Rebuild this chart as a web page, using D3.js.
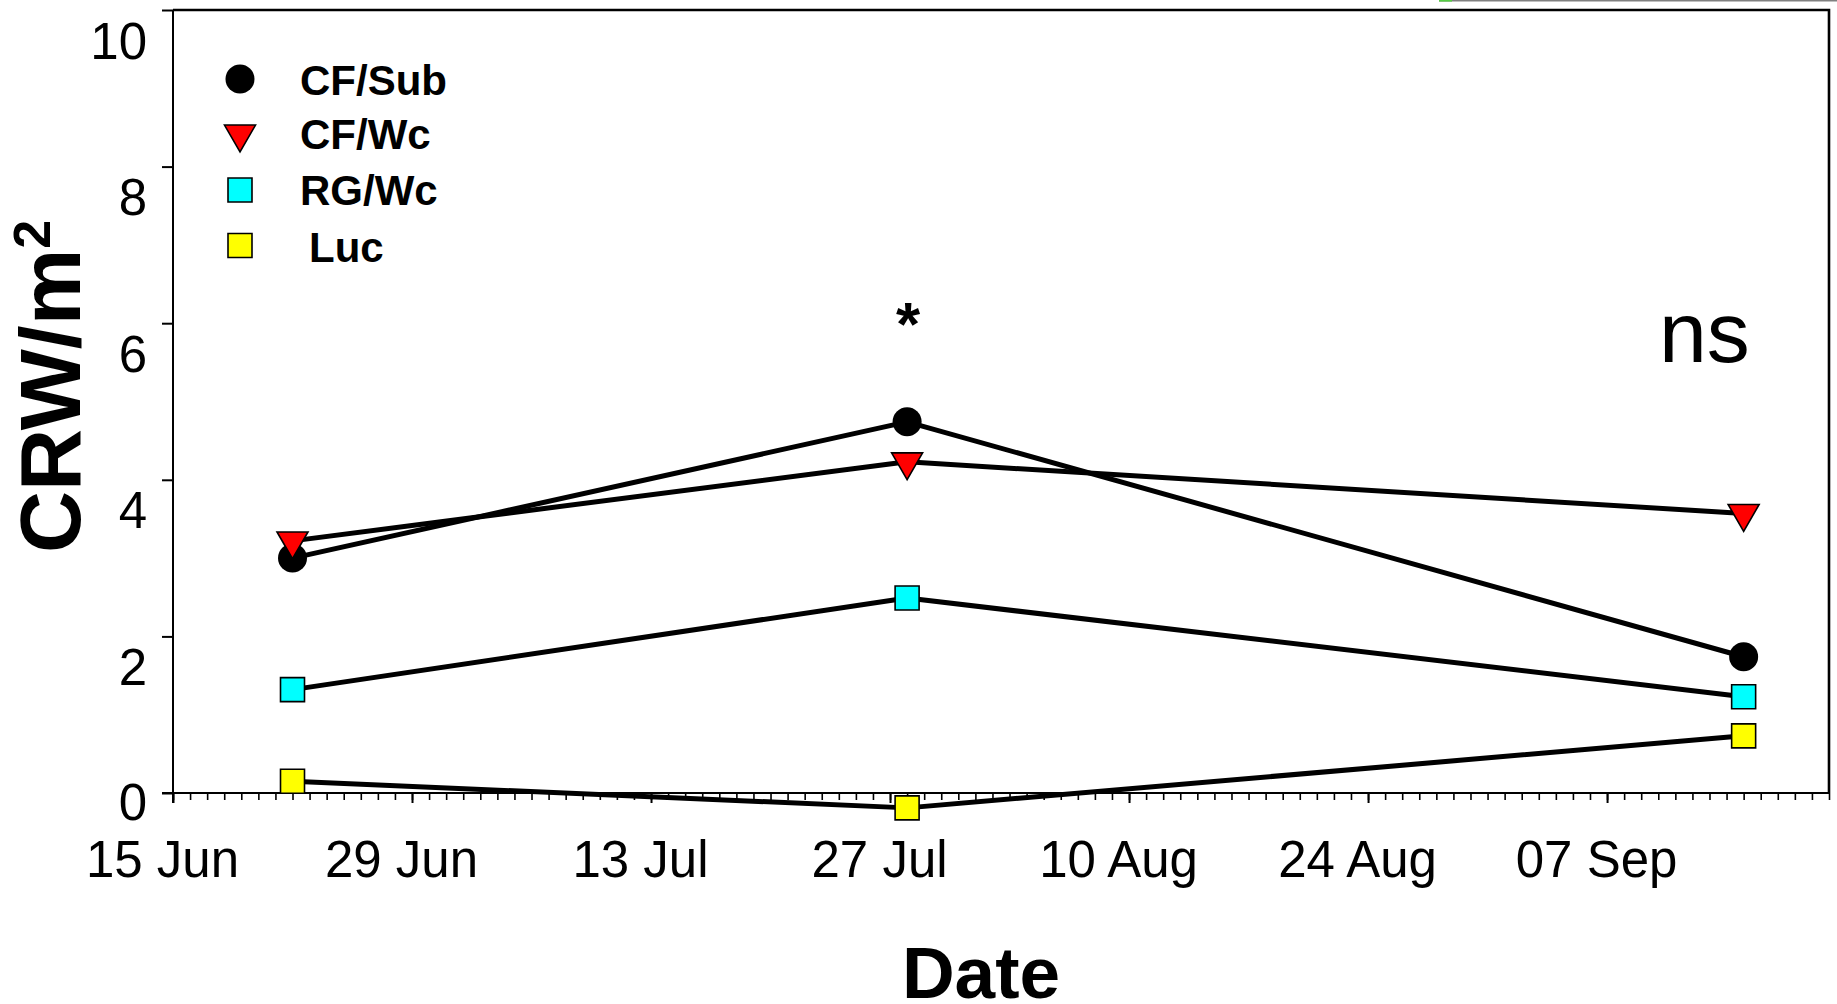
<!DOCTYPE html>
<html>
<head>
<script src="https://d3js.org/d3.v7.min.js"></script>
<style>
  body { margin: 0; background: #fff; }
  text { font-family: "Liberation Sans", Arial, sans-serif; }
</style>
</head>
<body>
<svg id="chart" width="1837" height="1004"></svg>
<script>
// sampling dates and values
const sampleDates = ["2003-06-22", "2003-07-28", "2003-09-15"];
const cfSub = [3.0, 4.74, 1.74];
const cfWc  = [3.22, 4.23, 3.57];
const rgWc  = [1.32, 2.49, 1.23];
const luc   = [0.15, -0.19, 0.73];

const seriesNames = ["CF/Sub", "CF/Wc", "RG/Wc", "Luc"];
const majorTicks = ["2003-06-15", "2003-06-29", "2003-07-13", "2003-07-27", "2003-08-10", "2003-08-24", "2003-09-07"];
const yTicks = [0, 2, 4, 6, 8, 10];

const parse = d3.timeParse("%Y-%m-%d");
const svg = d3.select("#chart");

// plot frame
const plotL = 173, plotR = 1829, plotT = 10, plotB = 793;

const x = d3.scaleTime()
  .domain([parse("2003-06-15"), parse("2003-09-20")])
  .range([plotL, plotR]);
const y = d3.scaleLinear().domain([0, 10]).range([plotB, plotT]);

// small cropped bit of a neighbouring figure at the very top
svg.append("line").attr("x1", 1439).attr("x2", 1837).attr("y1", 0.8).attr("y2", 0.8)
  .attr("stroke", "#808080").attr("stroke-width", 1.6);
svg.append("line").attr("x1", 1439).attr("x2", 1452).attr("y1", 0.8).attr("y2", 0.8)
  .attr("stroke", "#55cc44").attr("stroke-width", 1.6);

// frame top + right
svg.append("path")
  .attr("d", `M${plotL},${plotT}H${plotR}V${plotB}`)
  .attr("fill", "none").attr("stroke", "#000").attr("stroke-width", 2.6);

// y axis
const yAxis = svg.append("g")
  .attr("transform", `translate(${plotL},0)`)
  .call(d3.axisLeft(y).tickValues(yTicks).tickSize(11).tickPadding(15).tickFormat(d3.format("d")));
yAxis.select(".domain").remove();
yAxis.selectAll("line").attr("stroke-width", 2);
yAxis.selectAll("text")
  .attr("font-size", 51).attr("font-family", "Liberation Sans, Arial, sans-serif")
  .attr("fill", "#000")
  .attr("dy", null)
  .attr("y", d => d === 0 ? 26 : 48);
svg.append("line").attr("x1", plotL).attr("x2", plotL).attr("y1", plotT).attr("y2", plotB + 10)
  .attr("stroke", "#000").attr("stroke-width", 2);

// x axis: daily minor ticks, two-week major ticks
const xMinor = svg.append("g")
  .attr("transform", `translate(0,${plotB})`)
  .call(d3.axisBottom(x).ticks(d3.timeDay.every(1)).tickSize(7).tickFormat(""));
xMinor.select(".domain").remove();
xMinor.selectAll("line").attr("stroke-width", 1.6);

const xMajor = svg.append("g")
  .attr("transform", `translate(0,${plotB})`)
  .call(d3.axisBottom(x).tickValues(majorTicks.map(parse)).tickSize(10).tickFormat(d3.timeFormat("%d %b")));
xMajor.select(".domain").remove();
xMajor.selectAll("line").attr("stroke-width", 2);
xMajor.selectAll("text")
  .attr("font-size", 51).attr("font-family", "Liberation Sans, Arial, sans-serif")
  .attr("fill", "#000")
  .attr("dy", null).attr("y", 84).attr("dx", -11);

svg.append("line").attr("x1", plotL - 11).attr("x2", plotR).attr("y1", plotB).attr("y2", plotB)
  .attr("stroke", "#000").attr("stroke-width", 2.2);

// series
const dates = sampleDates.map(parse);
const series = [
  { name: seriesNames[0], values: cfSub, shape: "circle", fill: "#000000" },
  { name: seriesNames[1], values: cfWc, shape: "triangle", fill: "#ff0000" },
  { name: seriesNames[2], values: rgWc, shape: "square", fill: "#00ffff" },
  { name: seriesNames[3], values: luc, shape: "square", fill: "#ffff00" }
];

const line = d3.line().x(d => x(d.date)).y(d => y(d.v));
series.forEach(s => {
  s.points = s.values.map((v, i) => ({ date: dates[i], v: v }));
});

svg.append("g").selectAll("path").data(series).join("path")
  .attr("d", s => line(s.points))
  .attr("fill", "none").attr("stroke", "#000").attr("stroke-width", 5)
  .attr("stroke-linejoin", "round");

const symbolFor = {
  circle: d3.symbol(d3.symbolCircle, Math.PI * 14.5 * 14.5),
  triangle: d3.symbol(d3.symbolTriangle, 416),
  square: d3.symbol(d3.symbolSquare, 24 * 24)
};
const rotFor = { circle: 0, triangle: 180, square: 0 };

function marker(g, s, cx, cy) {
  g.append("path")
    .attr("d", symbolFor[s.shape]())
    .attr("transform", `translate(${cx},${cy}) rotate(${rotFor[s.shape]})`)
    .attr("fill", s.fill).attr("stroke", "#000")
    .attr("stroke-width", s.shape === "circle" ? 0 : 1.6);
}

const markers = svg.append("g");
series.forEach(s => {
  s.points.forEach(p => marker(markers, s, x(p.date), y(p.v)));
});

// legend
const legendY = [79, 134, 190, 245.5];
const legendBase = [95, 149, 205, 262];
const legend = svg.append("g");
series.forEach((s, i) => {
  marker(legend, s, 240, legendY[i]);
  legend.append("text")
    .attr("x", s.name === "Luc" ? 309 : 300).attr("y", legendBase[i])
    .attr("font-size", 42).attr("font-weight", "bold")
    .text(s.name);
});

// significance marks
svg.append("text").attr("x", 908).attr("y", 345)
  .attr("text-anchor", "middle").attr("font-size", 62).attr("font-weight", "bold")
  .text("*");
svg.append("text").attr("x", 1659).attr("y", 362)
  .attr("font-size", 86)
  .text("ns");

// axis titles
svg.append("text").attr("x", 981).attr("y", 998)
  .attr("text-anchor", "middle").attr("font-size", 73).attr("font-weight", "bold")
  .text("Date");

const yTitle = svg.append("text")
  .attr("transform", "translate(80,553) rotate(-90)")
  .attr("font-size", 86).attr("font-weight", "bold");
yTitle.append("tspan").text("CRW/m");
yTitle.append("tspan").attr("font-size", 52).attr("dy", -30).text("2");
</script>
</body>
</html>
